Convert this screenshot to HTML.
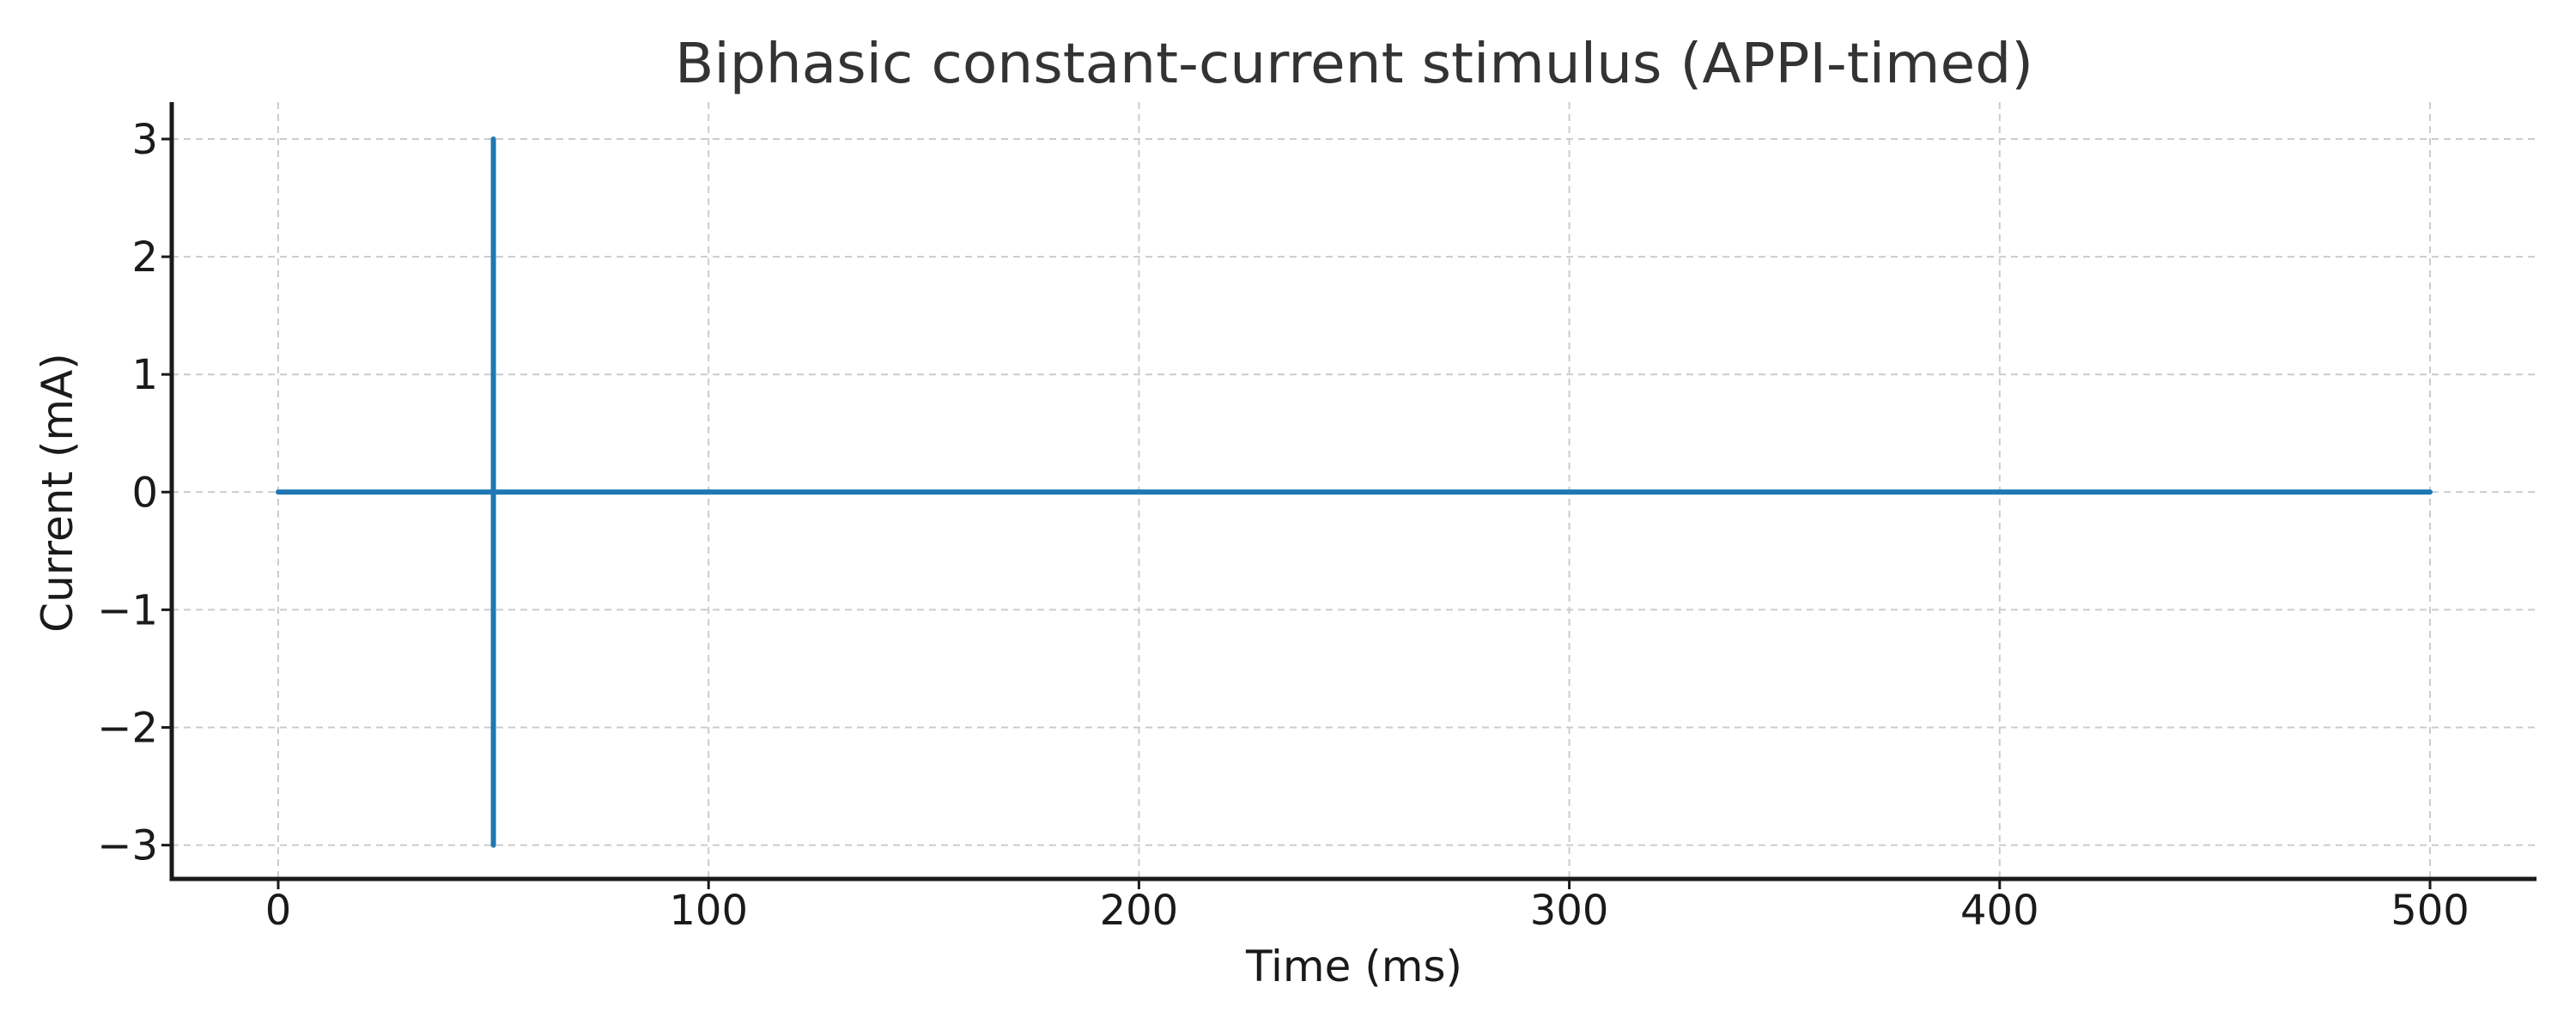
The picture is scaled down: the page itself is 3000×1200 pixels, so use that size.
<!DOCTYPE html>
<html><head><meta charset="utf-8"><style>
html,body{margin:0;padding:0;background:#fff;}
svg{display:block;font-family:"DejaVu Sans","Liberation Sans",sans-serif;}
</style></head><body>
<svg id="chart" width="3000" height="1200" viewBox="0 0 3000 1200" xmlns="http://www.w3.org/2000/svg">
<rect width="3000" height="1200" fill="#fff"/>
<g id="grid"></g>
<g id="series"></g>
<g id="axes"></g>
<text x="1577" y="96" text-anchor="middle" font-size="64" fill="#333" textLength="1582" lengthAdjust="spacingAndGlyphs">Biphasic constant-current stimulus (APPI-timed)</text>
<text x="1577" y="1143" text-anchor="middle" font-size="50" fill="#1a1a1a">Time (ms)</text>
<text transform="translate(84,574) rotate(-90)" text-anchor="middle" font-size="50" fill="#1a1a1a">Current (mA)</text>
</svg>
<script>
const xTicks = [0, 100, 200, 300, 400, 500];
const yTicks = [-3, -2, -1, 0, 1, 2, 3];
const timeMs = [0, 50, 50, 50, 50, 500];
const currentMa = [0, 0, 3, -3, 0, 0];

const NS = 'http://www.w3.org/2000/svg';
const L = 200, R = 2954, T = 119, B = 1024;
function xs(v){ return 324 + (v - 0) * (2830 - 324) / 500; }
function ys(v){ return 573.3 - v * 137.1; }
function mk(tag, attrs, parent){
  const e = document.createElementNS(NS, tag);
  for (const k in attrs) e.setAttribute(k, attrs[k]);
  parent.appendChild(e); return e;
}
const grid = document.getElementById('grid');
const axes = document.getElementById('axes');
const series = document.getElementById('series');

xTicks.forEach(t => {
  const x = xs(t);
  const g = mk('line', {x1:x, x2:x, y1:T, y2:B, stroke:'#cccccc', 'stroke-width':2, 'stroke-dasharray':'8,6'}, grid);
  
  
  const tk = mk('line', {x1:x, x2:x, y1:B, y2:B+12, stroke:'#1a1a1a', 'stroke-width':3}, axes);
  
  
  const lb = mk('text', {x:x, y:1077, 'text-anchor':'middle', 'font-size':48, fill:'#1a1a1a'}, axes);
  lb.textContent = String(t);
  
  
});
yTicks.forEach(t => {
  const y = ys(t);
  const g = mk('line', {x1:L, x2:R, y1:y, y2:y, stroke:'#cccccc', 'stroke-width':2, 'stroke-dasharray':'8,6'}, grid);
  
  
  const tk = mk('line', {x1:L-12, x2:L, y1:y, y2:y, stroke:'#1a1a1a', 'stroke-width':3}, axes);
  
  
  const lb = mk('text', {x:184, y:y+17, 'text-anchor':'end', 'font-size':48, fill:'#1a1a1a'}, axes);
  lb.textContent = t < 0 ? '\u2212' + Math.abs(t) : String(t);
  
  
});
const ax1 = mk('line', {x1:L, x2:L, y1:T, y2:B+2.5, stroke:'#1a1a1a', 'stroke-width':5}, axes);


const ax2 = mk('line', {x1:L-2.5, x2:R, y1:B, y2:B, stroke:'#1a1a1a', 'stroke-width':5}, axes);



const pts = timeMs.map((t,i) => xs(t).toFixed(1) + ',' + ys(currentMa[i]).toFixed(1)).join(' ');
const line = mk('polyline', {points:pts, fill:'none', stroke:'#1f77b4', 'stroke-width':6, 'stroke-linejoin':'round', 'stroke-linecap':'round'}, series);


</script>
</body></html>
